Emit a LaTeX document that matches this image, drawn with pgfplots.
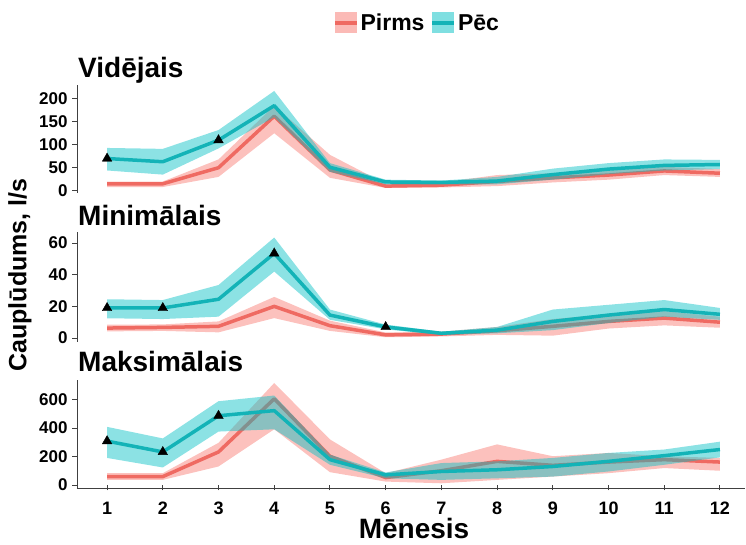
\documentclass[border=0pt]{standalone}
\usepackage{fontspec}
\setmainfont{Liberation Sans}
\usepackage{pgfplots}
\pgfplotsset{compat=1.18}
\usepackage{pgfplotstable}

\definecolor{pr}{HTML}{F8766D}
\definecolor{pc}{HTML}{00BFC4}
\definecolor{prline}{HTML}{EF6A62}
\definecolor{pcline}{HTML}{13B3B7}

% means: m = month, pm = Pirms, qm = Pec
\pgfplotstableread{
m pm qm
1 15 70
2 15 63
3 50 110
4 162 185
5 45 51
6 10 19
7 12 18
8 20 21
9 28 35
10 34 47
11 43 55
12 38 57
}\meanA
% ribbons: upper bound 1..12, then lower bound 12..1 (p = Pirms, q = Pec)
\pgfplotstableread{
m p q
1 20 93
2 20 91
3 68 132
4 185 217
5 78 60
6 15 24
7 18 22
8 34 30
9 38 48
10 44 60
11 52 68
12 47 67
12 30 47
11 34 44
10 24 36
9 18 24
8 10 14
7 7 14
6 6 14
5 28 41
4 125 160
3 30 92
2 8 35
1 8 44
}\bandA

\pgfplotstableread{
m pm qm
1 6.3 19
2 6.7 19
3 7.4 24.5
4 20 53.5
5 7.8 14.5
6 2 7
7 2.5 3
8 4.6 5
9 7.4 10.5
10 10.5 14.5
11 12.6 18
12 10 15
}\meanB
\pgfplotstableread{
m p q
1 8.4 24.5
2 8.6 24
3 10.5 33.5
4 26 63.5
5 11 18
6 3.5 8.5
7 4 4
8 7 7
9 12 18
10 15 21
11 17 24
12 13.5 19
12 6.5 11.5
11 8 13.5
10 6 9.5
9 1.5 5
8 2 3
7 1 2
6 0.5 5.5
5 4.5 11.5
4 12.6 42
3 3.6 13.5
2 4.5 12
1 4.2 12.5
}\bandB

\pgfplotstableread{
m pm qm
1 59 308
2 59 232
3 232 486
4 605 522
5 202 178
6 52 71
7 100 95
8 166 107
9 138 130
10 161 166
11 178 206
12 161 249
}\meanC
\pgfplotstableread{
m p q
1 83 408
2 83 327
3 296 588
4 716 628
5 320 213
6 83 88
7 178 154
8 285 166
9 202 190
10 225 225
11 202 249
12 190 304
12 100 194
11 119 142
10 83 95
9 59 59
8 36 47
7 12 36
6 24 47
5 90 142
4 391 391
3 130 375
2 36 123
1 36 190
}\bandC

\pgfplotsset{
  panel/.style={
    scale only axis, width=668pt,
    xmin=0.46, xmax=12.45,
    axis y line=left,
    axis line style={-, line width=0.9pt, black!75},
    tick style={line width=0.9pt, black!75},
    major tick length=5pt,
    tick align=outside,
    yticklabel style={font=\bfseries\fontsize{17}{17}\selectfont, black, xshift=-1pt},
    xticklabel style={font=\bfseries\fontsize{18}{18}\selectfont, black},
    /pgf/number format/assume math mode=true,
  },
  tri/.style={only marks, mark=triangle*, mark size=5.5pt, black, forget plot},
  pline/.style={prline, line width=3.5pt, line join=round, forget plot},
  qline/.style={pcline, line width=3.5pt, line join=round, forget plot},
  pband/.style={fill=pr, fill opacity=0.45, draw=none, forget plot},
  qband/.style={fill=pc, fill opacity=0.45, draw=none, forget plot},
}

\begin{document}
\begin{tikzpicture}
\useasboundingbox (0,0) rectangle (746pt,545pt);

% ---------- top: Videjais ----------
\begin{axis}[panel, at={(77pt,352pt)}, anchor=south west, height=108pt,
  ymin=-5, ymax=230, ytick={0,50,100,150,200},
  axis x line=none, xtick=\empty,
  legend columns=2,
  legend style={at={(0.509,1.574)}, anchor=center, draw=none, fill=none,
    font=\bfseries\fontsize{23}{23}\selectfont,
    /tikz/every even column/.append style={column sep=4pt}},
  legend cell align=left]
\addlegendimage{draw=none, fill=none, legend image code/.code={
  \path[fill=pr, fill opacity=0.5, draw=none] (0pt,-10.5pt) rectangle (22pt,10.5pt);
  \path[draw=prline, line width=3.5pt] (0pt,0pt) -- (22pt,0pt);}}
\addlegendentry{Pirms}
\addlegendimage{draw=none, fill=none, legend image code/.code={
  \path[fill=pc, fill opacity=0.5, draw=none] (0pt,-10.5pt) rectangle (22pt,10.5pt);
  \path[draw=pcline, line width=3.5pt] (0pt,0pt) -- (22pt,0pt);}}
\addlegendentry{Pēc}
\addplot[pband] table[x=m,y=p]{\bandA} -- cycle;
\addplot[pline] table[x=m,y=pm]{\meanA};
\addplot[qband] table[x=m,y=q]{\bandA} -- cycle;
\addplot[qline] table[x=m,y=qm]{\meanA};
\addplot[tri] coordinates {(1,70) (3,110)};
\end{axis}

% ---------- middle: Minimalais ----------
\begin{axis}[panel, at={(77pt,203pt)}, anchor=south west, height=110pt,
  ymin=-2.5, ymax=67, ytick={0,20,40,60},
  axis x line=none, xtick=\empty]
\addplot[pband] table[x=m,y=p]{\bandB} -- cycle;
\addplot[pline] table[x=m,y=pm]{\meanB};
\addplot[qband] table[x=m,y=q]{\bandB} -- cycle;
\addplot[qline] table[x=m,y=qm]{\meanB};
\addplot[tri] coordinates {(1,19) (2,19) (4,53.5) (6,7)};
\end{axis}

% ---------- bottom: Maksimalais ----------
\begin{axis}[panel, at={(77pt,57pt)}, anchor=south west, height=108pt,
  ymin=-21, ymax=737, ytick={0,200,400,600},
  axis x line=bottom, xtick={1,...,12},
  x axis line style={-},
  xticklabel style={yshift=-8pt}]
\addplot[pband] table[x=m,y=p]{\bandC} -- cycle;
\addplot[pline] table[x=m,y=pm]{\meanC};
\addplot[qband] table[x=m,y=q]{\bandC} -- cycle;
\addplot[qline] table[x=m,y=qm]{\meanC};
\addplot[tri] coordinates {(1,308) (2,232) (3,486)};
\end{axis}

% panel titles and axis labels
\node[anchor=base west, font=\bfseries\fontsize{28}{28}\selectfont, inner sep=0pt] at (78pt,467pt) {Vidējais};
\node[anchor=base west, font=\bfseries\fontsize{28}{28}\selectfont, inner sep=0pt] at (78pt,319pt) {Minimālais};
\node[anchor=base west, font=\bfseries\fontsize{28}{28}\selectfont, inner sep=0pt] at (78pt,173pt) {Maksimālais};
\node[anchor=base, font=\bfseries\fontsize{28}{28}\selectfont, inner sep=0pt] at (414pt,6pt) {Mēnesis};
\node[rotate=90, anchor=center, font=\bfseries\fontsize{25}{25}\selectfont, inner sep=0pt] at (20pt,270pt) {Cauplūdums, l/s};
\end{tikzpicture}
\end{document}
